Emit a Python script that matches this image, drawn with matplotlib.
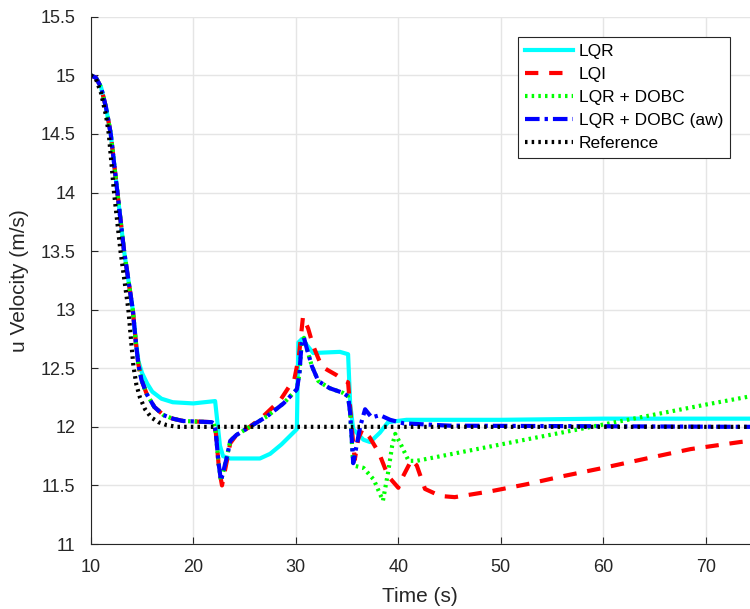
import matplotlib.pyplot as plt
from matplotlib.ticker import FuncFormatter
import numpy as np

plt.rcParams['font.family'] = ['Liberation Sans', 'DejaVu Sans']

# shared decay part (LQI / DOBC / DOBC aw follow each other here)
t_common = [10, 10.5, 11.0, 11.5, 11.95, 12.6, 13.25, 14.1, 14.4, 14.65, 14.95, 15.46, 16.2, 17.1, 18.0, 19.0, 21.8]
v_common = [15, 14.98, 14.9, 14.72, 14.5, 14.0, 13.5, 13.0, 12.72, 12.53, 12.4, 12.28, 12.17, 12.1, 12.07, 12.05, 12.04]

# LQR + DOBC (aw), up to 35.3 s also shared with LQR + DOBC
t_aw_mid = [22.0, 22.2, 22.45, 22.7, 23.3, 23.6, 24.2, 25.5, 27.2, 28.8, 30.1, 30.35, 30.55,
            30.8, 31.1, 31.56, 32.2, 33.3, 34.6, 35.1, 35.3]
v_aw_mid = [12.03, 11.95, 11.7, 11.54, 11.75, 11.88, 11.93, 12.0, 12.09, 12.2, 12.32, 12.45, 12.7,
            12.76, 12.66, 12.52, 12.39, 12.33, 12.29, 12.26, 12.12]
t_aw_end = [35.6, 36.3, 36.76, 37.4, 38.2, 39.2, 40.5, 45, 74.3]
v_aw_end = [11.69, 12.01, 12.15, 12.08, 12.1, 12.06, 12.03, 12.01, 12.0]

t_dobc_end = [35.6, 36.6, 37.6, 38.5, 39.0, 39.4, 39.7, 40.3, 41.0, 41.8, 50, 60, 70, 74.3]
v_dobc_end = [11.67, 11.65, 11.55, 11.37, 11.61, 11.84, 11.94, 11.84, 11.71, 11.71, 11.85, 12.02, 12.19, 12.26]

t_lqi_end = [22.0, 22.2, 22.5, 22.8, 23.3, 23.6, 24.2, 25.5, 26.7, 28.5, 29.4, 29.8, 30.3, 30.7,
             31.2, 31.7, 32.5, 33.0, 34.0, 34.8, 35.1, 35.45, 35.75, 36.1, 36.5, 37.2, 38.1,
             39.0, 40.0, 40.3, 41.3, 41.8, 42.6, 44.1, 45.5, 49, 52.5, 56.1, 60, 64.2, 68.5, 73.3, 74.3]
v_lqi_end = [12.03, 11.95, 11.65, 11.5, 11.72, 11.86, 11.93, 12.0, 12.08, 12.23, 12.35, 12.38, 12.6, 12.94,
             12.84, 12.69, 12.52, 12.49, 12.44, 12.39, 12.38, 12.0, 11.72, 11.9, 11.98, 11.91, 11.78,
             11.58, 11.48, 11.55, 11.72, 11.67, 11.47, 11.41, 11.40, 11.45, 11.51, 11.58, 11.65, 11.73, 11.81, 11.87, 11.88]

t_lqr = [10, 10.5, 11.0, 11.5, 11.95, 12.6, 13.25, 14.1, 14.4, 14.65, 15.0, 15.5, 16.0, 16.9, 18.0, 20, 22.13,
         22.6, 22.9, 23.6, 26.5, 27.5, 28.6, 30.1, 30.25, 30.6, 31.7, 34.3, 35.1, 35.3, 35.6,
         36.6, 37.25, 38.2, 39.0, 40.8, 50, 60, 74.3]
v_lqr = [15, 14.98, 14.9, 14.72, 14.5, 14.0, 13.5, 13.0, 12.73, 12.56, 12.46, 12.37, 12.3, 12.24, 12.21, 12.2, 12.22,
         11.84, 11.75, 11.73, 11.73, 11.77, 11.85, 11.98, 12.72, 12.75, 12.63, 12.64, 12.62, 12.2, 11.98,
         11.89, 11.87, 11.95, 12.04, 12.06, 12.06, 12.07, 12.07]

t_ref = [10, 10.5, 11.0, 11.5, 11.76, 12.27, 12.9, 13.67, 13.95, 14.16, 14.45, 14.8, 15.3, 15.9, 16.6, 17.4, 18.4, 74.3]
v_ref = [15, 14.97, 14.85, 14.65, 14.5, 14.0, 13.5, 13.0, 12.72, 12.52, 12.36, 12.25, 12.15, 12.08, 12.04, 12.015, 12.0, 12.0]

t_aw = t_common + t_aw_mid + t_aw_end
v_aw = v_common + v_aw_mid + v_aw_end
t_dobc = t_common + t_aw_mid + t_dobc_end
v_dobc = v_common + v_aw_mid + v_dobc_end
t_lqi = t_common + t_lqi_end
v_lqi = v_common + v_lqi_end

fig = plt.figure(figsize=(7.5, 6.09), dpi=100)
ax = fig.add_axes([0.121, 0.1067, 0.879, 0.8658])

lw = 3
ax.plot(t_lqr, v_lqr, color='#00ffff', lw=lw, label='LQR')
ax.plot(t_lqi, v_lqi, color='#ff0000', lw=lw, ls=(0, (3.2, 2.6)), label='LQI')
ax.plot(t_dobc, v_dobc, color='#00ff00', lw=lw, ls=(0, (0.6, 1.0)), label='LQR + DOBC')
ax.plot(t_aw, v_aw, color='#0000ff', lw=lw, ls=(0, (3.5, 1.2, 0.8, 1.2)), label='LQR + DOBC (aw)')
ax.plot(t_ref, v_ref, color='#000000', lw=lw, ls=(0, (0.6, 1.0)), label='Reference')

ax.set_xlim(10, 74.3)
ax.set_ylim(11, 15.5)
ax.set_xticks(np.arange(10, 71, 10))
ax.set_yticks(np.arange(11, 15.51, 0.5))
ax.yaxis.set_major_formatter(FuncFormatter(lambda v, p: '%g' % v))
ax.grid(True, color='#e5e5e5', lw=1.0)
ax.set_axisbelow(True)
for s in ['top', 'right']:
    ax.spines[s].set_visible(False)
for s in ['left', 'bottom']:
    ax.spines[s].set_color('#262626')
    ax.spines[s].set_linewidth(0.8)
ax.tick_params(direction='in', length=5, width=0.8, colors='#262626', labelsize=13, pad=11)

ax.set_xlabel('Time (s)', fontsize=15, color='#262626', labelpad=8)
ax.set_ylabel('u Velocity (m/s)', fontsize=15, color='#262626', labelpad=8)

leg = ax.legend(loc='upper right', bbox_to_anchor=(0.9697, 0.962), borderaxespad=0,
                fontsize=12.5, handlelength=2.8, handletextpad=0.3, labelspacing=0.45,
                fancybox=False, framealpha=1, edgecolor='#262626', borderpad=0.4)
leg.get_frame().set_linewidth(0.8)

fig.savefig('out.png', dpi=100)
